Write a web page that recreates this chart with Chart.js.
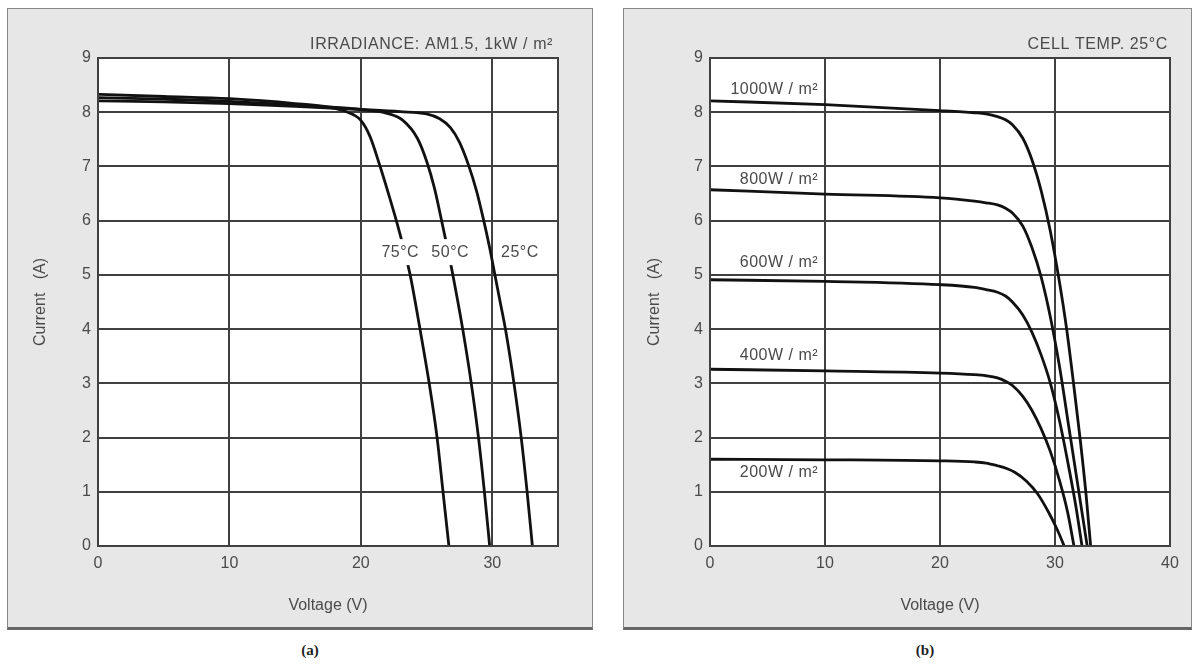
<!DOCTYPE html>
<html>
<head>
<meta charset="utf-8">
<script src="https://cdn.jsdelivr.net/npm/chart.js@4.4.1/dist/chart.umd.min.js"></script>
<style>
    body { margin: 0; width: 1200px; height: 666px; position: relative; overflow: hidden; background: #fff; }
    .panel { position: absolute; top: 8px; height: 622px; box-sizing: border-box; background: #e7e7e7;
             border: 1px solid #888; border-bottom: 3px solid #666; }
    .panel canvas { position: absolute; left: 0; top: 0; }
    #panel-a { left: 7px; width: 586px; }
    #panel-b { left: 623px; width: 569px; }
    .cap { position: absolute; top: 642px; width: 40px; text-align: center; color: #222;
           font: bold 15px 'Liberation Serif', 'DejaVu Serif', serif; }
</style>
</head>
<body>
<div class="panel" id="panel-a"><canvas id="chart-a" width="584" height="618"></canvas></div>
<div class="panel" id="panel-b"><canvas id="chart-b" width="567" height="618"></canvas></div>
<div class="cap" style="left:290px">(a)</div>
<div class="cap" style="left:905px">(b)</div>
<script>
// ticks
const X_TICKS_A = [0, 10, 20, 30];
const X_TICKS_B = [0, 10, 20, 30, 40];
const Y_TICKS = [0, 1, 2, 3, 4, 5, 6, 7, 8, 9];

// (a) irradiance AM1.5 1kW/m2, three cell temperatures
const v25C = [0, 5, 10, 15, 20, 23, 25, 26.0, 26.8, 27.5, 28.2, 28.8, 29.35, 29.8, 30.2, 30.6, 31.0, 31.65, 32.2, 32.65, 33.05];
const i25C = [8.21, 8.19, 8.16, 8.11, 8.05, 8.01, 7.97, 7.88, 7.72, 7.45, 7.02, 6.55, 6.0, 5.5, 5.0, 4.5, 4.0, 3.0, 2.0, 1.0, 0];
const v50C = [0, 5, 10, 15, 18, 20, 22, 23.2, 24.3, 25.0, 25.6, 26.1, 26.6, 27.0, 27.75, 28.4, 28.95, 29.4, 29.8];
const i50C = [8.27, 8.24, 8.2, 8.13, 8.09, 8.05, 7.98, 7.85, 7.52, 7.1, 6.6, 6.05, 5.48, 5.0, 4.0, 3.0, 2.0, 1.0, 0];
const v75C = [0, 5, 10, 15, 17.6, 19, 20, 20.7, 21.4, 22.1, 22.7, 23.25, 23.75, 24.5, 25.2, 25.8, 26.25, 26.7];
const i75C = [8.33, 8.29, 8.25, 8.16, 8.09, 8.0, 7.85, 7.55, 7.05, 6.5, 6.0, 5.5, 5.0, 4.0, 3.0, 2.0, 1.0, 0];

// (b) cell temp 25C, five irradiance levels
const v1000 = [0, 10, 20, 23, 24, 25, 25.7, 26.3, 27.2, 28.0, 28.8, 29.6, 30.4, 31.0, 31.6, 32.2, 32.7, 33.1];
const i1000 = [8.21, 8.14, 8.03, 7.99, 7.97, 7.92, 7.86, 7.77, 7.52, 7.12, 6.55, 5.8, 4.85, 4.02, 3.02, 1.95, 0.95, 0];
const v800 = [0, 10, 20, 23, 24, 25, 25.7, 26.3, 27.2, 28.0, 28.8, 29.6, 30.4, 31.2, 32.0, 32.8];
const i800 = [6.57, 6.49, 6.42, 6.36, 6.33, 6.29, 6.23, 6.14, 5.9, 5.5, 4.96, 4.22, 3.3, 2.2, 1.1, 0];
const v600 = [0, 10, 20, 23, 24, 25, 25.7, 26.3, 27.2, 28.0, 28.8, 29.6, 30.4, 31.2, 31.8, 32.35];
const i600 = [4.91, 4.88, 4.82, 4.77, 4.73, 4.68, 4.61, 4.5, 4.26, 3.94, 3.52, 3.0, 2.3, 1.45, 0.75, 0];
const v400 = [0, 10, 20, 23, 24, 25, 25.7, 26.3, 27.2, 28.0, 28.8, 29.6, 30.4, 31.1, 31.65];
const i400 = [3.26, 3.23, 3.19, 3.16, 3.14, 3.1, 3.04, 2.96, 2.76, 2.5, 2.16, 1.74, 1.2, 0.62, 0];
const v200 = [0, 10, 20, 23, 24, 25, 25.8, 26.5, 27.5, 28.5, 29.5, 30.2, 30.8];
const i200 = [1.6, 1.59, 1.57, 1.55, 1.53, 1.48, 1.43, 1.36, 1.2, 0.96, 0.6, 0.3, 0];

// curve labels, anchored in data units
const tempLabels = [
    { text: '75°C', v: 23.0, i: 5.42, knockout: true },
    { text: '50°C', v: 26.8, i: 5.42, knockout: true },
    { text: '25°C', v: 32.1, i: 5.42 }
];
const irrLabels = [
    { text: '1000W / m²', v: 9.4, i: 8.41, align: 'right' },
    { text: '800W / m²', v: 9.4, i: 6.75, align: 'right' },
    { text: '600W / m²', v: 9.4, i: 5.22, align: 'right' },
    { text: '400W / m²', v: 9.4, i: 3.51, align: 'right' },
    { text: '200W / m²', v: 9.4, i: 1.35, align: 'right' }
];

const FONT = "'Liberation Sans', Arial, sans-serif";
const TEXT = '#4a4a4a';
const GRID = '#404040';
Chart.defaults.font.family = FONT;
Chart.defaults.color = TEXT;

const toPoints = (vs, is) => vs.map((v, k) => ({ x: v, y: is[k] }));
const curve = (vs, is) => ({
    data: toPoints(vs, is),
    borderColor: '#111111',
    borderWidth: 2.8,
    pointRadius: 0,
    cubicInterpolationMode: 'monotone',
    fill: false
});

const plotFrame = {
    id: 'plotFrame',
    beforeDraw(chart) {
        const { ctx, chartArea: a } = chart;
        ctx.save();
        ctx.fillStyle = '#ffffff';
        ctx.fillRect(a.left, a.top, a.width, a.height);
        ctx.restore();
    },
    afterDraw(chart) {
        const { ctx, chartArea: a } = chart;
        ctx.save();
        ctx.strokeStyle = GRID;
        ctx.lineWidth = 2;
        ctx.strokeRect(a.left, a.top, a.width, a.height);
        ctx.restore();
    }
};

// header line above the plot + the labels next to the curves
const curveLabels = {
    id: 'curveLabels',
    afterDatasetsDraw(chart, args, opts) {
        const { ctx, chartArea: a, scales: { x, y } } = chart;
        ctx.save();
        ctx.font = '16px ' + FONT;
        ctx.textBaseline = 'middle';
        ctx.fillStyle = TEXT;
        ctx.letterSpacing = '0.6px';
        ctx.textAlign = 'right';
        ctx.fillText(opts.header, a.right - opts.headerInset, a.top - 13);
        ctx.letterSpacing = '0.5px';
        for (const l of opts.items || []) {
            const px = x.getPixelForValue(l.v);
            const py = y.getPixelForValue(l.i);
            ctx.textAlign = l.align || 'center';
            const w = ctx.measureText(l.text).width;
            if (l.knockout) {
                ctx.fillStyle = '#ffffff';
                ctx.fillRect(px - w / 2 - 3, py - 13, w + 6, 26);
            }
            ctx.fillStyle = TEXT;
            ctx.fillText(l.text, px, py);
        }
        ctx.restore();
    }
};

function makeChart(canvas, o) {
    return new Chart(canvas, {
        type: 'line',
        data: { datasets: o.datasets },
        options: {
            responsive: false,
            animation: false,
            devicePixelRatio: 1,
            layout: { padding: { top: 49, right: o.padRight, bottom: 0, left: 0 } },
            plugins: {
                legend: { display: false },
                tooltip: { enabled: false },
                curveLabels: { items: o.labels, header: o.header, headerInset: o.headerInset }
            },
            scales: {
                x: {
                    type: 'linear',
                    min: 0,
                    max: o.xMax,
                    afterBuildTicks: s => { s.ticks = o.xTicks.map(v => ({ value: v })); },
                    afterFit: s => { s.height = 81; },
                    grid: { color: GRID, lineWidth: 2, drawTicks: false },
                    border: { color: GRID, width: 2 },
                    ticks: { padding: 8, font: { size: 16 }, color: TEXT },
                    title: { display: true, text: 'Voltage (V)', color: TEXT,
                             font: { size: 16 }, padding: { top: 0, bottom: 12 } }
                },
                y: {
                    min: 0,
                    max: 9,
                    afterBuildTicks: s => { s.ticks = Y_TICKS.map(v => ({ value: v })); },
                    afterFit: s => { s.width = o.yWidth; },
                    grid: { color: GRID, lineWidth: 2, drawTicks: false },
                    border: { color: GRID, width: 2 },
                    ticks: { padding: 7, font: { size: 16 }, color: TEXT },
                    title: { display: true, text: 'Current   (A)', color: TEXT,
                             font: { size: 16 }, padding: { top: o.yTitlePad, bottom: 0 } }
                }
            }
        },
        plugins: [plotFrame, curveLabels]
    });
}

makeChart(document.getElementById('chart-a'), {
    header: 'IRRADIANCE: AM1.5, 1kW / m²',
    headerInset: 5,
    datasets: [curve(v25C, i25C), curve(v50C, i50C), curve(v75C, i75C)],
    labels: tempLabels,
    xMax: 35,
    xTicks: X_TICKS_A,
    padRight: 34,
    yWidth: 90,
    yTitlePad: 23
});

makeChart(document.getElementById('chart-b'), {
    header: 'CELL TEMP. 25°C',
    headerInset: 2,
    datasets: [curve(v1000, i1000), curve(v800, i800), curve(v600, i600), curve(v400, i400), curve(v200, i200)],
    labels: irrLabels,
    xMax: 40,
    xTicks: X_TICKS_B,
    padRight: 21,
    yWidth: 86,
    yTitlePad: 21
});
</script>
</body>
</html>
